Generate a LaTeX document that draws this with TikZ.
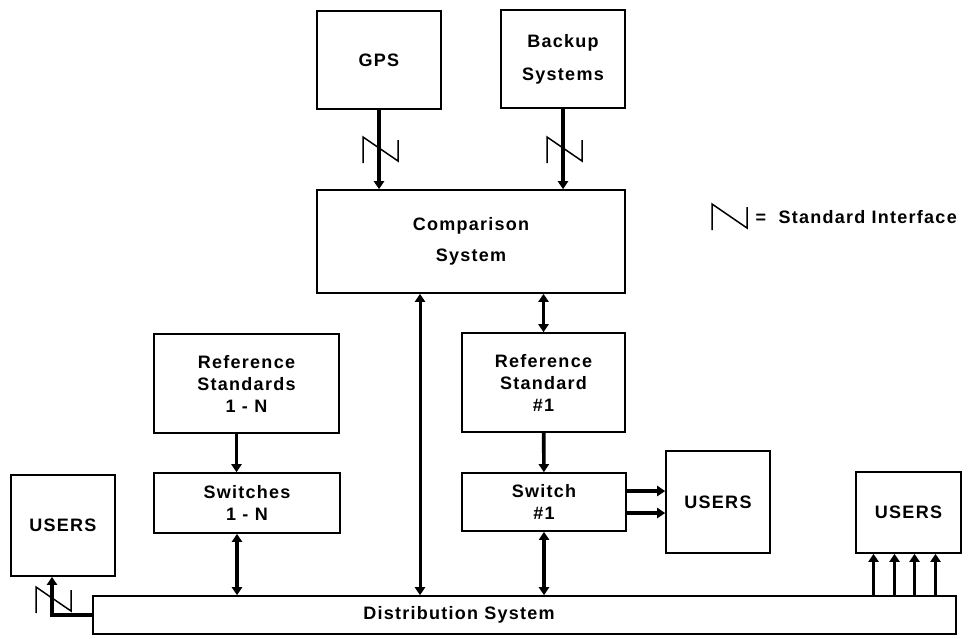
\documentclass[tikz,border=0pt]{standalone}
\usepackage{fontspec}
\setmainfont{Liberation Sans}[LetterSpace=7]
\usetikzlibrary{arrows.meta}

\tikzset{
  txt/.style={font=\fontsize{18}{22}\selectfont\bfseries, align=center},
  block/.style={txt, draw, line width=1.6pt, inner sep=0pt},
  arr/.style={line width=3.6pt, -{Triangle[width=10pt,length=8pt]}},
  darr/.style={line width=3.6pt, {Triangle[width=10pt,length=8pt]}-{Triangle[width=10pt,length=8pt]}},
  iface/.pic={\draw[line width=1.5pt] (-16,13) -- (-16,-13) -- (19,11) -- (19,-10);}
}

\begin{document}
\begin{tikzpicture}[x=1pt, y=-1pt]
    \useasboundingbox (0,0) rectangle (975,638);
    % top row
    \node[block, minimum width=124pt, minimum height=98pt] (gps) at (379,60) {GPS};
    \node[block, minimum width=124pt, minimum height=98pt] (backup) at (563,59) {Backup\\[11pt]Systems};
    \node[block, minimum width=308pt, minimum height=103pt] (comp) at (471,241.5) {Comparison\\[9pt]System};
    % standards and switches
    \node[block, minimum width=185pt, minimum height=99pt] (refs) at (246.5,383.5) {Reference\\Standards\\1 - N};
    \node[block, minimum width=186pt, minimum height=60pt] (switches) at (247,503) {Switches\\1 - N};
    \node[block, minimum width=163pt, minimum height=99pt] (ref1) at (543.5,382.5) {Reference\\Standard\\\#1};
    \node[block, minimum width=164pt, minimum height=58pt] (sw1) at (544,502) {Switch\\\#1};
    % users
    \node[block, minimum width=104pt, minimum height=102pt] (usersmid) at (718,502) {USERS};
    \node[block, minimum width=104pt, minimum height=101pt] (usersleft) at (63,525.5) {USERS};
    \node[block, minimum width=105pt, minimum height=81pt] (usersright) at (908.5,512.5) {USERS};
    % distribution
    \node[block, minimum width=863pt, minimum height=38pt] (dist) at (524.5,615) {};
    \node[txt] (distlabel) at (459,615) {Distribution System};

    \draw[arr] (gps) -- (gps |- comp.north);
    \draw[arr] (backup) -- (backup |- comp.north);
    \pic at (379,150) {iface};
    \pic at (563,150) {iface};
    \draw[darr, line width=3pt] ([xshift=-51pt]comp.south) -- ([xshift=-51pt]comp.south |- dist.north);
    \draw[darr] (comp.south -| ref1.north) -- (ref1.north);
    \draw[arr] (ref1) -- (sw1);
    \draw[darr] (sw1.south) -- (sw1.south |- dist.north);
    \draw[arr] ([xshift=-10pt]refs.south) -- ([xshift=-10pt]refs.south |- switches.north);
    \draw[darr] ([xshift=-10pt]switches.south) -- ([xshift=-10pt]switches.south |- dist.north);
    \draw[arr] ([yshift=11pt]sw1.east) -- ([yshift=11pt]sw1.east -| usersmid.west);
    \draw[arr] ([yshift=-11pt]sw1.east) -- ([yshift=-11pt]sw1.east -| usersmid.west);
    \foreach \dx in {-35,-14,6,27}
        \draw[arr] ([xshift=\dx pt]usersright.south |- dist.north) -- ([xshift=\dx pt]usersright.south);
    \draw[arr] (dist.west) -| ([xshift=-11pt]usersleft.south);
    \pic at (52,600) {iface};

    % legend
    \pic at (728,217) {iface};
    \node[txt, anchor=west] (legend) at (752,217) {= \ Standard Interface};
\end{tikzpicture}
\end{document}
